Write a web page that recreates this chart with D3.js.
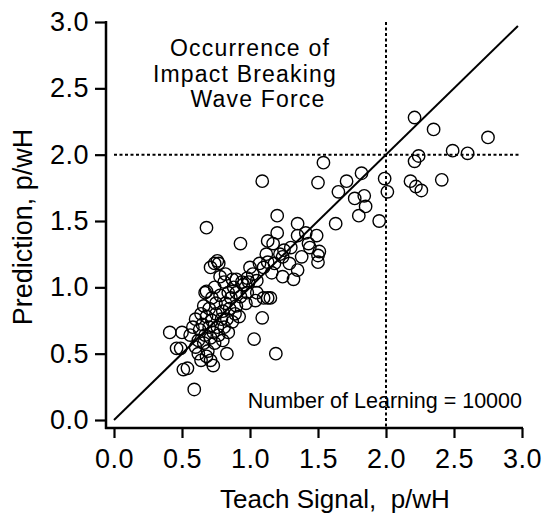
<!DOCTYPE html>
<html>
<head>
<meta charset="utf-8">
<script src="https://cdn.jsdelivr.net/npm/d3@7"></script>
<style>
  body { margin: 0; background: #fff; }
  svg { display: block; font-family: "Liberation Sans", Arial, Helvetica, sans-serif; }
</style>
</head>
<body>
<div id="chart"></div>
<script>
// teach signal (x) and network prediction (y), both p/wH
const teach = [
  2.21, 2.35, 2.75, 2.49, 2.60, 2.24, 2.21, 1.54, 1.50, 1.71, 1.82, 1.99, 2.01, 2.18, 2.22, 2.26, 2.41,
  1.65, 1.77, 1.84, 1.85, 1.80, 1.95, 1.63, 1.20, 1.20, 1.35, 1.35, 1.41, 1.49, 1.43, 1.44, 1.51, 1.50,
  1.50, 1.38, 1.17, 1.24, 1.29, 1.35, 1.18, 1.16, 1.24, 1.32, 1.15,
  1.09, 0.68, 0.93, 1.13, 0.76, 0.77, 0.82, 0.81, 0.87, 0.90, 0.94, 0.98, 1.02, 1.07, 1.13, 1.10,
  0.68, 0.84, 0.90, 0.98, 1.05, 1.10, 1.04, 1.13, 1.09, 1.03, 1.19, 0.83, 0.41, 0.50, 0.46, 0.49,
  0.51, 0.54, 0.59, 0.73, 0.64, 0.71,
  0.60, 0.62, 0.63, 0.65, 0.66, 0.67, 0.68, 0.69, 0.70, 0.70, 0.71, 0.72, 0.73, 0.74, 0.75, 0.75,
  0.76, 0.77, 0.78, 0.79, 0.80, 0.80, 0.81, 0.82, 0.83, 0.84, 0.85, 0.86, 0.87, 0.88, 0.89, 0.90,
  0.92, 0.93, 0.95, 0.97, 0.99, 0.64, 0.66, 0.72, 0.58, 0.56, 0.60, 0.62, 0.68, 0.74, 0.78, 0.71,
  0.74, 0.67, 1.05, 1.00, 1.12, 1.25, 1.30, 1.22
];
const predicted = [
  2.28, 2.19, 2.13, 2.03, 2.01, 1.99, 1.95, 1.94, 1.79, 1.80, 1.86, 1.82, 1.72, 1.80, 1.76, 1.73, 1.81,
  1.72, 1.67, 1.69, 1.61, 1.54, 1.50, 1.48, 1.54, 1.41, 1.48, 1.39, 1.41, 1.39, 1.33, 1.30, 1.27, 1.24,
  1.19, 1.23, 1.33, 1.23, 1.18, 1.13, 1.18, 1.11, 1.08, 1.06, 0.92,
  1.80, 1.45, 1.33, 1.35, 1.20, 1.18, 1.10, 1.04, 1.06, 1.06, 1.04, 1.07, 1.10, 1.18, 1.19, 1.15,
  0.97, 0.96, 0.96, 0.96, 0.96, 0.92, 0.90, 0.92, 0.77, 0.61, 0.50, 0.50, 0.66, 0.66, 0.54, 0.54,
  0.38, 0.39, 0.23, 0.41, 0.45, 0.45,
  0.55, 0.60, 0.68, 0.72, 0.58, 0.64, 0.78, 0.52, 0.70, 0.84, 0.62, 0.75, 0.66, 0.58, 0.88, 0.80,
  0.70, 0.64, 0.94, 0.76, 0.82, 0.60, 0.70, 0.88, 0.76, 0.66, 0.84, 0.92, 0.74, 1.00, 0.80, 0.86,
  0.78, 0.93, 1.02, 0.88, 1.04, 0.80, 0.86, 0.92, 0.70, 0.64, 0.76, 0.50, 0.48, 1.00, 1.08, 1.15,
  1.18, 0.96, 1.05, 1.15, 1.25, 1.28, 1.30, 1.25
];
const xTicks = [0, 0.5, 1.0, 1.5, 2.0, 2.5, 3.0];
const yTicks = [0, 0.5, 1.0, 1.5, 2.0, 2.5, 3.0];
const threshold = 2.0;          // impact breaking wave force level
const perfectLine = [0, 2.97];  // 1:1 reference line
const titleLines = ["Occurrence of", "Impact Breaking", "Wave Force"];

const W = 544, H = 519;
const svg = d3.select("#chart").append("svg")
  .attr("width", W).attr("height", H)
  .attr("viewBox", `0 0 ${W} ${H}`);

const x = d3.scaleLinear().domain([0, 3]).range([114, 522]);
const y = d3.scaleLinear().domain([0, 3]).range([420, 22]);
const axisX = 106, axisY = 428;

// axes (offset from the data origin, Igor style)
const gx = svg.append("g")
  .attr("transform", `translate(0,${axisY})`)
  .call(d3.axisBottom(x).tickValues(xTicks).tickFormat(d3.format(".1f"))
    .tickSize(10).tickPadding(11));
const gy = svg.append("g")
  .attr("transform", `translate(${axisX},0)`)
  .call(d3.axisLeft(y).tickValues(yTicks).tickFormat(d3.format(".1f"))
    .tickSize(11).tickPadding(6));

[gx, gy].forEach(g => {
  g.select(".domain").remove();
  g.selectAll(".tick line").attr("stroke", "#000").attr("stroke-width", 2.2);
  g.selectAll(".tick text").attr("fill", "#000")
    .style("font-size", "27px").style("letter-spacing", "0.5px")
    .style("font-family", "'Liberation Sans', Arial, sans-serif");
});

svg.append("line")
  .attr("x1", axisX).attr("x2", axisX)
  .attr("y1", y(3) - 1).attr("y2", axisY + 1)
  .attr("stroke", "#000").attr("stroke-width", 2.5);
svg.append("line")
  .attr("x1", axisX - 1).attr("x2", x(3) + 1)
  .attr("y1", axisY).attr("y2", axisY)
  .attr("stroke", "#000").attr("stroke-width", 2.5);

// threshold dotted lines
svg.append("line")
  .attr("x1", x(0)).attr("x2", x(2.98))
  .attr("y1", y(threshold)).attr("y2", y(threshold))
  .attr("stroke", "#000").attr("stroke-width", 2).attr("stroke-dasharray", "3,2.5");
svg.append("line")
  .attr("x1", x(threshold)).attr("x2", x(threshold))
  .attr("y1", y(3)).attr("y2", axisY)
  .attr("stroke", "#000").attr("stroke-width", 2).attr("stroke-dasharray", "3,2.5");

// 1:1 line
svg.append("line")
  .attr("x1", x(perfectLine[0])).attr("y1", y(perfectLine[0]))
  .attr("x2", x(perfectLine[1])).attr("y2", y(perfectLine[1]))
  .attr("stroke", "#000").attr("stroke-width", 2);

// points
svg.append("g")
  .selectAll("circle")
  .data(teach.map((t, i) => [t, predicted[i]]))
  .enter()
  .append("circle")
  .attr("cx", d => x(d[0]))
  .attr("cy", d => y(d[1]))
  .attr("r", 6.2)
  .attr("fill", "none")
  .attr("stroke", "#000")
  .attr("stroke-width", 1.4);

// annotation
const titlePos = [[250, 56], [245, 82], [258, 107]];
svg.append("g").selectAll("text")
  .data(titleLines)
  .enter()
  .append("text")
  .attr("x", (d, i) => titlePos[i][0])
  .attr("y", (d, i) => titlePos[i][1])
  .attr("text-anchor", "middle")
  .style("font-size", "23px")
  .style("letter-spacing", "1.2px")
  .text(d => d);

svg.append("text")
  .attr("x", 522).attr("y", 408)
  .attr("text-anchor", "end")
  .style("font-size", "21.5px")
  .text("Number of Learning = 10000");

// axis titles
svg.append("text")
  .attr("x", 335).attr("y", 508)
  .attr("text-anchor", "middle")
  .style("font-size", "26px")
  .attr("xml:space", "preserve")
  .text("Teach Signal,  p/wH");

svg.append("text")
  .attr("transform", "translate(32,227) rotate(-90)")
  .attr("text-anchor", "middle")
  .style("font-size", "27px")
  .text("Prediction, p/wH");
</script>
</body>
</html>
